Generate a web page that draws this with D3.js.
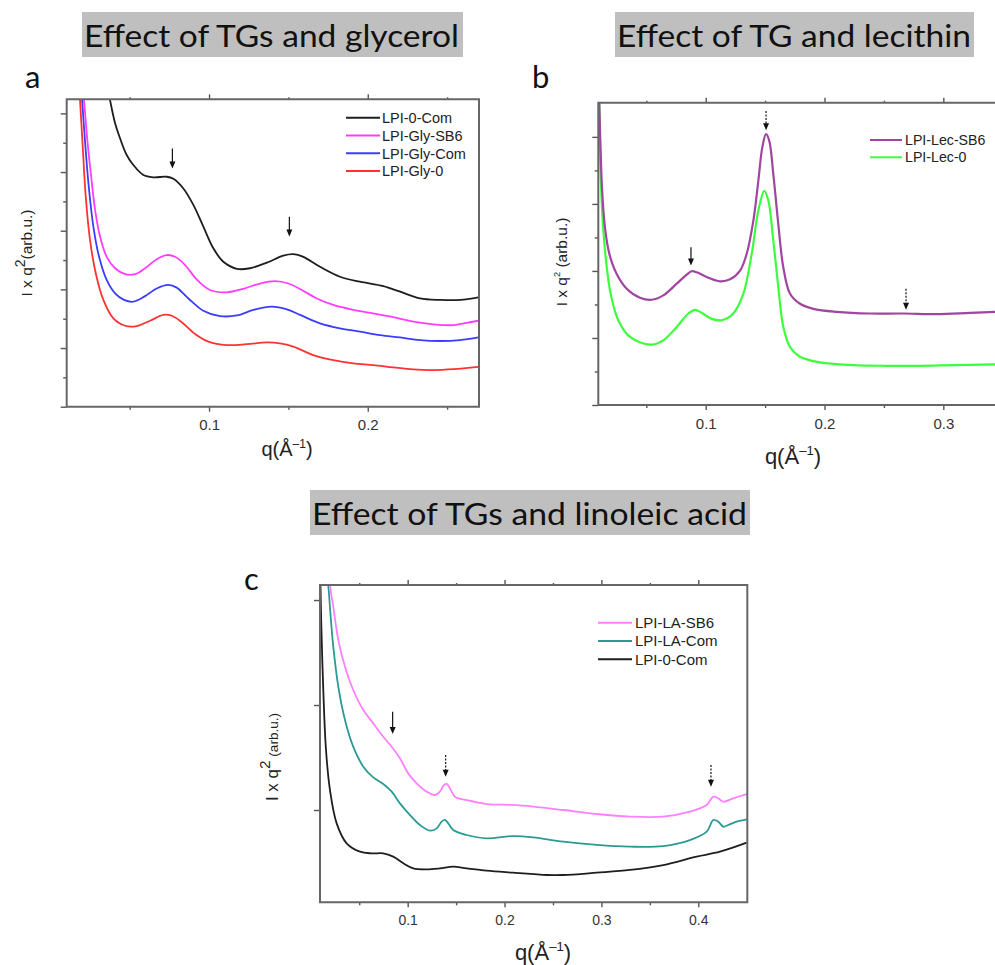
<!DOCTYPE html>
<html><head><meta charset="utf-8">
<script src="https://cdn.jsdelivr.net/npm/d3@7"></script>
<style>body{margin:0;background:#fff}svg{display:block}</style>
</head><body>
<svg id="chart" width="995" height="965"></svg>
<script>
// ---------------- Panel a data ----------------
const aBlackQ = [0.0359,0.0376,0.0408,0.0439,0.0481,0.0523,0.0586,0.0649,0.0733,0.0775,0.0838,0.0901,0.0964,0.1027,0.1090,0.1175,0.1258,0.1364,0.1468,0.1531,0.1594,0.1699,0.1825,0.1951,0.2098,0.2204,0.2330,0.2456,0.2582,0.2697];
const aBlackY = [10.91,10.45,9.66,9.15,8.58,8.24,7.90,7.82,7.84,7.77,7.44,6.88,6.14,5.40,4.94,4.70,4.72,4.91,5.15,5.20,5.11,4.77,4.43,4.26,4.11,3.92,3.69,3.64,3.64,3.73];
const aMagQ = [0.0204,0.0212,0.0233,0.0255,0.0282,0.0313,0.0355,0.0408,0.0471,0.0534,0.0597,0.0670,0.0733,0.0786,0.0849,0.0922,0.1006,0.1112,0.1216,0.1321,0.1416,0.1500,0.1584,0.1679,0.1783,0.1909,0.2035,0.2161,0.2287,0.2413,0.2539,0.2624,0.2697];
const aMagY = [10.91,10.45,9.09,7.95,6.70,5.80,5.11,4.72,4.52,4.52,4.72,5.03,5.17,5.11,4.83,4.34,3.98,3.90,4.02,4.20,4.28,4.20,3.98,3.69,3.47,3.30,3.18,3.05,2.90,2.81,2.78,2.86,2.93];
const aBlueQ = [0.0193,0.0200,0.0221,0.0242,0.0271,0.0307,0.0355,0.0408,0.0464,0.0523,0.0597,0.0670,0.0744,0.0796,0.0870,0.0964,0.1069,0.1175,0.1279,0.1395,0.1490,0.1573,0.1699,0.1825,0.1951,0.2078,0.2204,0.2330,0.2456,0.2582,0.2697];
const aBlueY = [10.91,10.45,8.86,7.50,6.14,5.11,4.32,3.86,3.64,3.58,3.77,4.03,4.15,4.06,3.69,3.27,3.09,3.11,3.30,3.41,3.32,3.13,2.84,2.67,2.56,2.44,2.36,2.27,2.24,2.27,2.36];
const aRedQ = [0.0181,0.0187,0.0204,0.0223,0.0250,0.0286,0.0334,0.0397,0.0471,0.0544,0.0628,0.0712,0.0765,0.0828,0.0912,0.0996,0.1111,0.1238,0.1364,0.1447,0.1531,0.1657,0.1783,0.1909,0.2035,0.2161,0.2287,0.2413,0.2539,0.2697];
const aRedY = [10.91,10.45,8.86,7.16,5.68,4.55,3.64,3.01,2.76,2.75,2.93,3.13,3.10,2.88,2.48,2.22,2.10,2.13,2.19,2.16,2.05,1.76,1.59,1.48,1.42,1.34,1.27,1.25,1.28,1.36];
const aNames = ["LPI-0-Com","LPI-Gly-SB6","LPI-Gly-Com","LPI-Gly-0"];
const aXTicks = [0.1, 0.2], aXMinor = [0.05, 0.15, 0.25];
const aYMajor = [0,2,4,6,8,10], aYMinor = [1,3,5,7,9];
const aArrowQ = [0.0769, 0.1506], aArrowTop = [8.80, 6.48], aArrowTip = [8.12, 5.80];

// ---------------- Panel b data ----------------
const bPurQ = [0.0099,0.0104,0.0113,0.0127,0.0152,0.0189,0.0251,0.0335,0.0447,0.0545,0.0643,0.0756,0.0840,0.0882,0.0924,0.1008,0.1120,0.1205,0.1289,0.1345,0.1401,0.1443,0.1476,0.1508,0.1535,0.1569,0.1611,0.1653,0.1710,0.1794,0.1906,0.2103,0.2383,0.2663,0.2944,0.3225,0.3435,0.3480];
const bPurY = [9.27,8.99,7.88,6.49,5.30,4.51,3.91,3.47,3.20,3.14,3.27,3.62,3.89,3.99,3.96,3.82,3.69,3.75,4.01,4.51,5.50,6.69,7.68,8.08,7.88,6.89,5.40,4.11,3.32,3.02,2.87,2.78,2.73,2.73,2.71,2.75,2.78,2.79];
const bGrnQ = [0.0099,0.0104,0.0116,0.0133,0.0161,0.0200,0.0264,0.0363,0.0531,0.0643,0.0756,0.0854,0.0910,0.0966,0.1051,0.1135,0.1232,0.1317,0.1387,0.1443,0.1493,0.1527,0.1569,0.1611,0.1653,0.1710,0.1794,0.1962,0.2242,0.2524,0.2804,0.3084,0.3435,0.3480];
const bGrnY = [9.27,8.99,6.89,5.50,4.31,3.32,2.53,2.03,1.80,1.93,2.33,2.73,2.84,2.75,2.57,2.53,2.73,3.32,4.51,5.80,6.39,6.10,4.91,3.52,2.33,1.73,1.44,1.27,1.19,1.17,1.17,1.19,1.21,1.21];
const bNames = ["LPI-Lec-SB6","LPI-Lec-0"];
const bXTicks = [0.1, 0.2, 0.3], bXMinor = [0.05, 0.15, 0.25];
const bYMajor = [0,2,4,6,8], bYMinor = [1,3,5,7];
const bArrowQ = [0.0876, 0.1508, 0.2686], bArrowTop = [4.71, 8.77, 3.47], bArrowTip = [4.16, 8.20, 2.84];
const bArrowDash = [false, true, true];

// ---------------- Panel c data ----------------
const cPinkQ = [0.0191,0.0205,0.0232,0.0284,0.0353,0.0438,0.0542,0.0645,0.0748,0.0835,0.0920,0.1006,0.1093,0.1196,0.1282,0.1333,0.1375,0.1403,0.1437,0.1488,0.1609,0.1816,0.2090,0.2297,0.2606,0.2951,0.3295,0.3639,0.3914,0.4087,0.4155,0.4207,0.4258,0.4361,0.4500];
const cPinkY = [3.254,3.095,2.937,2.619,2.365,2.143,1.952,1.825,1.698,1.603,1.492,1.349,1.254,1.175,1.143,1.175,1.238,1.248,1.206,1.127,1.095,1.057,1.048,1.032,1.000,0.962,0.937,0.937,0.984,1.048,1.127,1.111,1.079,1.111,1.152];
const cTealQ = [0.0164,0.0180,0.0205,0.0232,0.0284,0.0353,0.0438,0.0542,0.0645,0.0748,0.0835,0.0920,0.1024,0.1127,0.1230,0.1299,0.1351,0.1385,0.1419,0.1471,0.1609,0.1816,0.2090,0.2297,0.2606,0.2951,0.3295,0.3639,0.3914,0.4087,0.4155,0.4207,0.4258,0.4310,0.4396,0.4500];
const cTealY = [3.254,3.143,2.841,2.556,2.175,1.857,1.603,1.413,1.311,1.248,1.175,1.063,0.952,0.857,0.803,0.825,0.889,0.905,0.873,0.810,0.762,0.730,0.752,0.740,0.698,0.667,0.651,0.657,0.714,0.794,0.905,0.889,0.841,0.857,0.889,0.911];
const cBlackQ = [0.0098,0.0108,0.0129,0.0157,0.0198,0.0267,0.0370,0.0508,0.0628,0.0748,0.0851,0.0955,0.1058,0.1196,0.1333,0.1471,0.1609,0.1816,0.2090,0.2435,0.2606,0.2951,0.3295,0.3639,0.3983,0.4224,0.4500];
const cBlackY = [3.254,2.778,2.143,1.571,1.190,0.873,0.683,0.603,0.587,0.587,0.556,0.492,0.444,0.435,0.444,0.460,0.444,0.422,0.403,0.381,0.381,0.403,0.429,0.476,0.556,0.603,0.689];
const cNames = ["LPI-LA-SB6","LPI-LA-Com","LPI-0-Com"];
const cXTicks = [0.1, 0.2, 0.3, 0.4], cXMinor = [0.05, 0.15, 0.25, 0.35];
const cYTicks = [1, 2, 3];
const cArrowQ = [0.0845, 0.1392, 0.4131], cArrowTop = [1.937, 1.524, 1.429], cArrowTip = [1.724, 1.317, 1.222];
const cArrowDash = [false, true, true];

const titles = ["Effect of TGs and glycerol", "Effect of TG and lecithin", "Effect of TGs and linoleic acid"];

// ---------------- drawing ----------------
const svg = d3.select("#chart");
const AXFONT = "'Liberation Sans', Arial, sans-serif";
const TFONT = "Lato, 'Open Sans', sans-serif";

function title(txt, rx, ry, rw, rh, tx, ty, tlen) {
  svg.append("rect").attr("x", rx).attr("y", ry).attr("width", rw).attr("height", rh).attr("fill", "#bfbfbf");
  svg.append("text").attr("x", tx).attr("y", ty).attr("font-family", TFONT).attr("font-size", 30)
    .attr("fill", "#111").attr("textLength", tlen).attr("lengthAdjust", "spacingAndGlyphs").text(txt);
}
function letter(t, x, y) {
  svg.append("text").attr("x", x).attr("y", y).attr("font-family", TFONT).attr("font-size", 31)
    .attr("fill", "#111").text(t);
}

title(titles[0], 82, 12, 381, 45, 84, 46.7, 375);
title(titles[1], 615, 12, 359, 45, 617, 46.7, 354);
title(titles[2], 310, 490, 440, 45, 312, 525, 435);
letter("a", 25, 88);
letter("b", 532, 88);
letter("c", 244, 590);

function panel(cfg) {
  const x = d3.scaleLinear().domain(cfg.xd).range(cfg.xr);
  const y = d3.scaleLinear().domain(cfg.yd).range(cfg.yr);
  const g = svg.append("g");
  const id = "clip" + cfg.id;
  svg.append("clipPath").attr("id", id).append("rect")
    .attr("x", cfg.xr[0]).attr("y", cfg.yr[1]).attr("width", cfg.xr[1] - cfg.xr[0]).attr("height", cfg.yr[0] - cfg.yr[1]);

  const tickStyle = sel => { sel.select(".domain").remove(); sel.selectAll(".tick line").attr("stroke", "#555").attr("stroke-width", 1.4); };
  g.append("g").attr("transform", `translate(0,${cfg.yr[0]})`)
    .call(d3.axisBottom(x).tickValues(cfg.xt).tickSize(5).tickPadding(8).tickFormat(d3.format(".1f")))
    .call(tickStyle).call(s => s.selectAll("text").attr("font-family", AXFONT).attr("font-size", cfg.tfs).attr("fill", "#333"));
  g.append("g").attr("transform", `translate(0,${cfg.yr[0]})`)
    .call(d3.axisBottom(x).tickValues(cfg.xm).tickSize(3).tickFormat(""))
    .call(tickStyle);
  g.append("g").attr("transform", `translate(0,${cfg.yr[1]})`)
    .call(d3.axisTop(x).tickValues(cfg.xt).tickSize(5).tickFormat("")).call(tickStyle);
  g.append("g").attr("transform", `translate(0,${cfg.yr[1]})`)
    .call(d3.axisTop(x).tickValues(cfg.xm).tickSize(2).tickFormat("")).call(tickStyle);
  g.append("g").attr("transform", `translate(${cfg.xr[0]},0)`)
    .call(d3.axisLeft(y).tickValues(cfg.ym).tickSize(6).tickFormat("")).call(tickStyle);
  if (cfg.yn.length)
    g.append("g").attr("transform", `translate(${cfg.xr[0]},0)`)
      .call(d3.axisLeft(y).tickValues(cfg.yn).tickSize(3.5).tickFormat("")).call(tickStyle);

  const line = d3.line().x(d => x(d[0])).y(d => y(d[1])).curve(d3.curveCatmullRom.alpha(0.5));
  const sg = g.append("g").attr("clip-path", `url(#${id})`);
  cfg.series.slice().reverse().forEach(s => {
    sg.append("path").datum(d3.zip(s.q, s.y)).attr("d", line).attr("fill", "none")
      .attr("stroke", s.color).attr("stroke-width", cfg.lw).attr("stroke-linejoin", "round");
  });

  const fx0 = cfg.xr[0], fx1 = cfg.xr[1], fy0 = cfg.yr[1], fy1 = cfg.yr[0];
  g.append("path").attr("d", `M${fx0},${fy0}H${fx1}V${fy1}H${fx0}Z`).attr("fill", "none")
    .attr("stroke", "#666").attr("stroke-width", 2);

  cfg.arrows.q.forEach((q, i) => {
    const ax = x(q), y1 = y(cfg.arrows.top[i]), y2 = y(cfg.arrows.tip[i]);
    g.append("line").attr("x1", ax).attr("x2", ax).attr("y1", y1).attr("y2", y2 - 5)
      .attr("stroke", "#111").attr("stroke-width", 1.2)
      .attr("stroke-dasharray", cfg.arrows.dash && cfg.arrows.dash[i] ? "2,1.5" : null);
    g.append("path").attr("d", `M${ax - 3},${y2 - 7}L${ax + 3},${y2 - 7}L${ax},${y2}Z`).attr("fill", "#111");
  });

  cfg.series.forEach((s, i) => {
    const ly = cfg.leg.y + i * cfg.leg.dy;
    g.append("line").attr("x1", cfg.leg.x0).attr("x2", cfg.leg.x1).attr("y1", ly).attr("y2", ly)
      .attr("stroke", s.color).attr("stroke-width", 2);
    g.append("text").attr("x", cfg.leg.tx).attr("y", ly).attr("dy", "0.36em")
      .attr("font-family", AXFONT).attr("font-size", cfg.leg.fs).attr("fill", "#222").text(s.name);
  });

  const xl = g.append("text").attr("x", cfg.xl.x).attr("y", cfg.xl.y).attr("text-anchor", "middle")
    .attr("font-family", AXFONT).attr("font-size", cfg.xl.fs).attr("fill", "#222");
  xl.append("tspan").text("q(Å");
  xl.append("tspan").attr("font-size", cfg.xl.fs * 0.6).attr("dy", -cfg.xl.fs * 0.42).text("–1");
  xl.append("tspan").attr("dy", cfg.xl.fs * 0.42).text(")");

  const yl = g.append("text").attr("transform", `translate(${cfg.yl.x},${cfg.yl.y}) rotate(-90)`)
    .attr("text-anchor", "middle").attr("dy", "0.35em")
    .attr("font-family", AXFONT).attr("font-size", cfg.yl.fs).attr("fill", "#222");
  yl.append("tspan").text("I x q");
  yl.append("tspan").attr("font-size", cfg.yl.fs * cfg.yl.sup).attr("dy", -cfg.yl.fs * 0.45).text("2");
  yl.append("tspan").attr("font-size", cfg.yl.fs * cfg.yl.par).attr("dy", cfg.yl.fs * 0.45).text(cfg.yl.gap + "(arb.u.)");
}

panel({
  id: "a", xd: [0.0103, 0.2701], xr: [66.7, 479], yd: [0, 10.48], yr: [406.7, 99.3],
  xt: aXTicks, xm: aXMinor, ym: aYMajor, yn: aYMinor, tfs: 15, lw: 1.8,
  series: [
    {name: aNames[0], q: aBlackQ, y: aBlackY, color: "#1e1e1e"},
    {name: aNames[1], q: aMagQ, y: aMagY, color: "#ff3cff"},
    {name: aNames[2], q: aBlueQ, y: aBlueY, color: "#3c3cff"},
    {name: aNames[3], q: aRedQ, y: aRedY, color: "#ff3232"}
  ],
  arrows: {q: aArrowQ, top: aArrowTop, tip: aArrowTip},
  leg: {x0: 346, x1: 380, tx: 382, y: 117.7, dy: 17.8, fs: 14.5},
  xl: {x: 287, y: 456, fs: 20},
  yl: {x: 27, y: 253, fs: 15.5, sup: 0.9, par: 1, gap: ""}
});

panel({
  id: "b", xd: [0.0096, 0.3477], xr: [598.3, 1000], yd: [0, 9.02], yr: [405, 102.7],
  xt: bXTicks, xm: bXMinor, ym: bYMajor, yn: bYMinor, tfs: 15, lw: 2.2,
  series: [
    {name: bNames[0], q: bPurQ, y: bPurY, color: "#a046a0"},
    {name: bNames[1], q: bGrnQ, y: bGrnY, color: "#3cff3c"}
  ],
  arrows: {q: bArrowQ, top: bArrowTop, tip: bArrowTip, dash: bArrowDash},
  leg: {x0: 870, x1: 902, tx: 905, y: 140, dy: 17.3, fs: 14.2},
  xl: {x: 793, y: 464, fs: 22},
  yl: {x: 562, y: 262, fs: 15.5, sup: 0.6, par: 1, gap: " "}
});

panel({
  id: "c", xd: [0.0095, 0.4506], xr: [320, 747.3], yd: [0.121, 3.143], yr: [902.3, 585],
  xt: cXTicks, xm: cXMinor, ym: cYTicks, yn: [], tfs: 14, lw: 1.8,
  series: [
    {name: cNames[0], q: cPinkQ, y: cPinkY, color: "#ff80ff"},
    {name: cNames[1], q: cTealQ, y: cTealY, color: "#2a9a93"},
    {name: cNames[2], q: cBlackQ, y: cBlackY, color: "#1e1e1e"}
  ],
  arrows: {q: cArrowQ, top: cArrowTop, tip: cArrowTip, dash: cArrowDash},
  leg: {x0: 598, x1: 632, tx: 635, y: 622.7, dy: 18.3, fs: 15},
  xl: {x: 543, y: 960, fs: 22},
  yl: {x: 272, y: 757, fs: 17, sup: 0.9, par: 0.8, gap: " "}
});
</script>
</body></html>
